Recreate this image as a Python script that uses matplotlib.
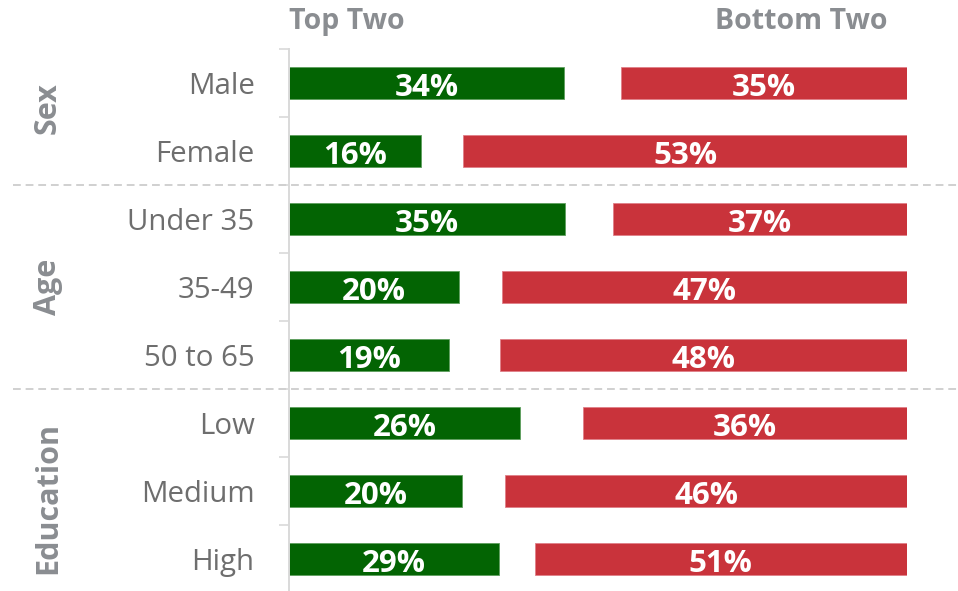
import matplotlib.pyplot as plt
import matplotlib.transforms as mtransforms
import numpy as np

plt.rcParams["font.family"] = ["Open Sans", "DejaVu Sans"]

############### Data ###############
categories = ["Male", "Female", "Under 35", "35-49", "50 to 65", "Low", "Medium", "High"]
groups = ["Sex", "Age", "Education"]
group_sizes = [2, 3, 3]

# printed percentages
top_two_pct = [34, 16, 35, 20, 19, 26, 20, 29]
bottom_two_pct = [35, 53, 37, 47, 48, 36, 46, 51]

# bar lengths as drawn (share of the full row width)
top_two_bar = [44.5, 21.4, 44.7, 27.5, 25.8, 37.4, 27.9, 33.9]
bottom_two_bar = [46.2, 71.8, 47.6, 65.5, 65.9, 52.4, 65.0, 60.2]

green = "#036403"
red = "#C9333B"
label_grey = "#6E6E6E"
head_grey = "#8A8D91"
line_grey = "#D0D0D0"

############### Plot ###############
W, H = 958, 591
fig = plt.figure(figsize=(W / 100, H / 100), dpi=100)
ax = fig.add_axes([289.3 / W, (H - 593) / H, 617.4 / W, 544 / H])

y = np.arange(len(categories))
bar_h = 0.47
ax.barh(y, top_two_bar, height=bar_h, color=green, edgecolor="#5E9E5E", linewidth=0.6)
ax.barh(y, bottom_two_bar, left=100 - np.array(bottom_two_bar), height=bar_h,
        color=red, edgecolor="#E08088", linewidth=0.6)

for yi, tv, tp, bv, bp in zip(y, top_two_bar, top_two_pct, bottom_two_bar, bottom_two_pct):
    ax.text(tv / 2, yi + 0.08, f"{tp}%", ha="center", va="center",
            color="white", fontsize=22.5, fontweight="bold")
    ax.text(100 - bv / 2, yi + 0.08, f"{bp}%", ha="center", va="center",
            color="white", fontsize=22.5, fontweight="bold")

ax.set_xlim(0, 100)
ax.set_ylim(len(categories) - 0.5, -0.5)

# category labels on major ticks, separators on minor ticks
ax.set_yticks(y)
ax.set_yticklabels(categories, fontsize=21.2, color=label_grey)
ax.tick_params(axis="y", which="major", length=0, pad=25)
ax.set_yticks(np.arange(-0.5, len(categories), 1), minor=True)
ax.tick_params(axis="y", which="minor", length=7.5, width=1.2, color="#D9D9D9")
ax.set_xticks([])

for side in ["top", "right", "bottom"]:
    ax.spines[side].set_visible(False)
ax.spines["left"].set_color("#D9D9D9")
ax.spines["left"].set_linewidth(1.4)

# headers
ax.text(0, -0.9, "Top Two", ha="left", va="center", fontsize=20.5,
        fontweight="bold", color=head_grey, clip_on=False)
ax.text(69, -0.9, "Bottom Two", ha="left", va="center", fontsize=20.5,
        fontweight="bold", color=head_grey, clip_on=False)

# group labels and dashed separators
trans = mtransforms.blended_transform_factory(fig.transFigure, ax.transData)
group_shift = [-0.13, 0.0, 0.1]
start = 0
for g, n, dy in zip(groups, group_sizes, group_shift):
    mid = start + (n - 1) / 2 + dy
    ax.text(48 / W, mid, g, transform=trans, rotation=90, ha="center", va="center",
            fontsize=22, fontweight="bold", color=head_grey)
    start += n
    if start < len(categories):
        ax.plot([13 / W, 1.0], [start - 0.5, start - 0.5], transform=trans,
                color=line_grey, linestyle=(0, (4, 2.5)), linewidth=1.4, clip_on=False)

fig.savefig("out.png", dpi=100)
